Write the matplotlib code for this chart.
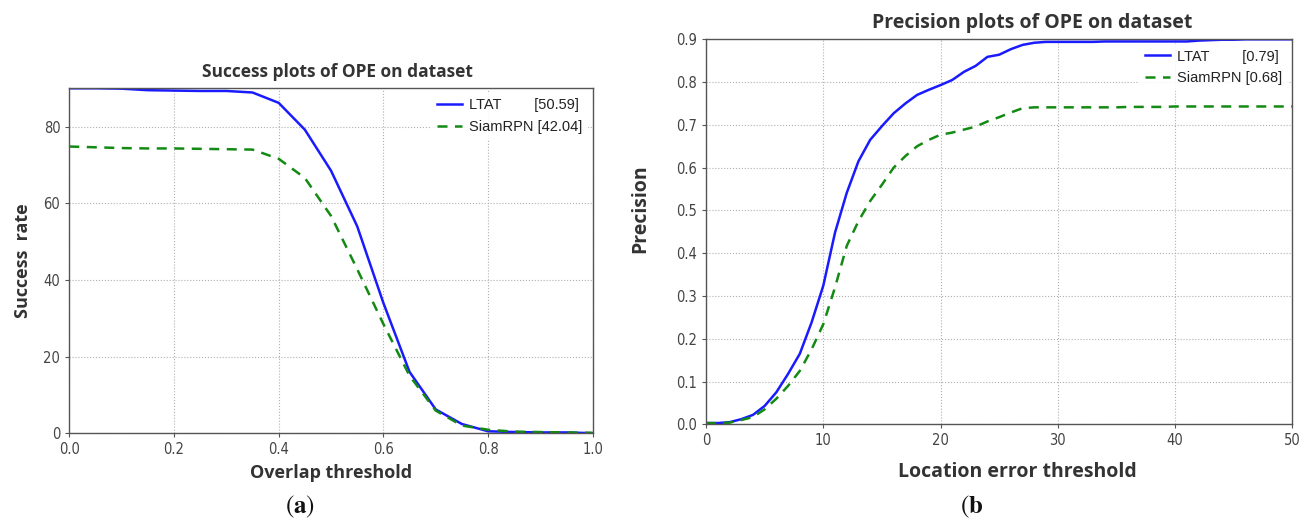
import numpy as np
import matplotlib.pyplot as plt

# Success plot (overlap threshold)
overlap = [0.0, 0.05, 0.1, 0.15, 0.2, 0.25, 0.3, 0.35, 0.4, 0.45, 0.5,
           0.55, 0.6, 0.65, 0.7, 0.75, 0.8, 0.85, 0.9, 0.95, 1.0]
success_ltat = [90.0, 90.0, 89.9, 89.5, 89.4, 89.3, 89.3, 88.9, 86.2, 79.2, 68.5,
                54.0, 34.0, 16.0, 6.2, 2.4, 0.5, 0.3, 0.2, 0.2, 0.0]
success_siam = [74.8, 74.6, 74.4, 74.3, 74.3, 74.2, 74.1, 74.0, 71.6, 66.6, 56.7,
                42.8, 28.5, 15.0, 5.9, 2.0, 0.9, 0.4, 0.3, 0.2, 0.1]

# Precision plot (location error threshold, pixels)
loc_err = list(range(51))
prec_ltat = [0.003, 0.003, 0.005, 0.012, 0.022, 0.043, 0.075, 0.118, 0.165, 0.238,
             0.324, 0.448, 0.541, 0.615, 0.665, 0.697, 0.727, 0.750, 0.770, 0.782,
             0.793, 0.805, 0.824, 0.838, 0.859, 0.864, 0.877, 0.887, 0.892, 0.894,
             0.894, 0.894, 0.894, 0.894, 0.895, 0.895, 0.895, 0.895, 0.895, 0.895,
             0.895, 0.895, 0.897, 0.898, 0.899, 0.899, 0.900, 0.900, 0.900, 0.900,
             0.900]
prec_siam = [0.003, 0.003, 0.004, 0.010, 0.017, 0.035, 0.060, 0.090, 0.125, 0.175,
             0.234, 0.320, 0.417, 0.475, 0.522, 0.560, 0.600, 0.627, 0.650, 0.665,
             0.677, 0.682, 0.689, 0.696, 0.708, 0.718, 0.729, 0.739, 0.741, 0.741,
             0.741, 0.741, 0.741, 0.741, 0.741, 0.741, 0.742, 0.742, 0.742, 0.742,
             0.743, 0.743, 0.743, 0.743, 0.743, 0.743, 0.743, 0.743, 0.743, 0.743,
             0.743]

success_labels = ['LTAT        [50.59]', 'SiamRPN [42.04]']
prec_labels = ['LTAT        [0.79]', 'SiamRPN [0.68]']

plt.rcParams['mathtext.fontset'] = 'stix'

bold_font = ['Open Sans', 'DejaVu Sans']
text_col = '#333333'


def style_axes(ax):
    ax.grid(True, color='#b0b0b0', linestyle=':', linewidth=0.8)
    for s in ax.spines.values():
        s.set_color('#555555')
        s.set_linewidth(1.0)
    ax.tick_params(direction='out', length=3, width=0.8, color='#555555',
                   labelcolor='#444444', labelsize=10.5)
    for lab in ax.get_xticklabels() + ax.get_yticklabels():
        lab.set_family(['DejaVu Sans'])
        lab.set_stretch('condensed')


def add_legend(ax, labels):
    leg = ax.legend(labels, loc='upper right', frameon=True,
                    handlelength=1.7, handletextpad=0.5, borderaxespad=0.3,
                    fancybox=False,
                    prop={'family': ['Liberation Sans', 'DejaVu Sans'], 'size': 10.5})
    leg.get_frame().set_edgecolor('none')
    leg.get_frame().set_alpha(0.85)
    for t in leg.get_texts():
        t.set_color('#222222')


fig = plt.figure(figsize=(13.05, 5.27), dpi=100)

# (a) success plot
ax1 = fig.add_axes([0.0531, 0.1780, 0.4011, 0.6545])
ax1.plot(overlap, success_ltat, color='#1a1aff', linewidth=1.8)
ax1.plot(overlap, success_siam, color='#138a13', linewidth=1.8, linestyle='--',
         dashes=(4, 3))
ax1.set_xlim(0, 1)
ax1.set_ylim(0, 90)
ax1.set_xticks([0.0, 0.2, 0.4, 0.6, 0.8, 1.0])
ax1.set_yticks([0, 20, 40, 60, 80])
style_axes(ax1)
add_legend(ax1, success_labels)
ax1.set_title('Success plots of OPE on dataset', fontsize=12.5, fontweight='bold',
              family=bold_font, color=text_col, pad=8, x=0.512)
ax1.set_xlabel('Overlap threshold', fontsize=13, fontweight='bold',
               family=bold_font, color=text_col, labelpad=5)
ax1.set_ylabel('Success  rate', fontsize=13, fontweight='bold',
               family=bold_font, color=text_col, labelpad=8)

# (b) precision plot
ax2 = fig.add_axes([0.5410, 0.1948, 0.4493, 0.7306])
ax2.plot(loc_err, prec_ltat, color='#1a1aff', linewidth=1.8)
ax2.plot(loc_err, prec_siam, color='#138a13', linewidth=1.8, linestyle='--',
         dashes=(4, 3))
ax2.set_xlim(0, 50)
ax2.set_ylim(0, 0.9)
ax2.set_xticks([0, 10, 20, 30, 40, 50])
ax2.set_yticks(np.arange(0, 0.91, 0.1))
ax2.yaxis.set_major_formatter(plt.FormatStrFormatter('%.1f'))
style_axes(ax2)
add_legend(ax2, prec_labels)
ax2.set_title('Precision plots of OPE on dataset', fontsize=14, fontweight='bold',
              family=bold_font, color=text_col, pad=8, x=0.556)
ax2.set_xlabel('Location error threshold', fontsize=14, fontweight='bold',
               family=bold_font, color=text_col, labelpad=10)
ax2.xaxis.label.set_x(0.531)
ax2.set_ylabel('Precision', fontsize=14, fontweight='bold',
               family=bold_font, color=text_col, labelpad=12)
ax2.yaxis.set_label_coords(-0.095, 0.56)

fig.text(300 / 1305, 1 - 507 / 527, r'$(\mathbf{a})$', fontsize=18,
         ha='center', va='center', color='#111111')
fig.text(972 / 1305, 1 - 507 / 527, r'$(\mathbf{b}$', fontsize=18,
         ha='center', va='center', color='#111111')

fig.savefig('out.png', dpi=100)
